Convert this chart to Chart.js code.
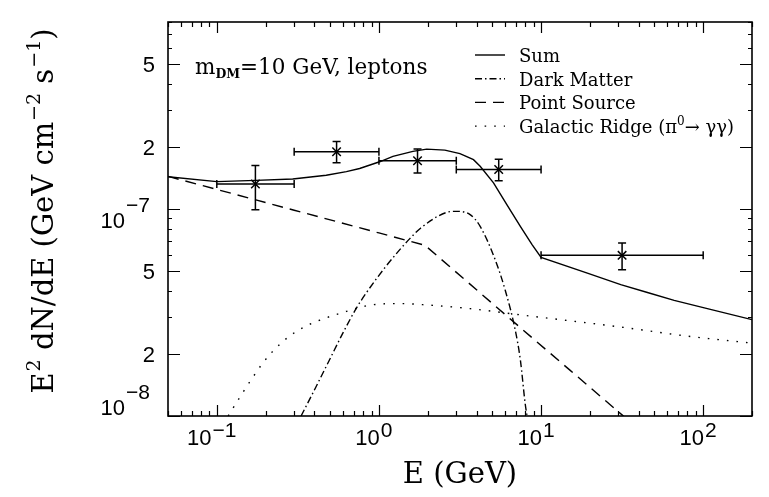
<!DOCTYPE html>
<html>
<head>
<meta charset="utf-8">
<script src="https://cdn.jsdelivr.net/npm/chart.js@4.4.0/dist/chart.umd.min.js"></script>
<style>
  html, body { margin: 0; padding: 0; background: #fff; }
  #wrap { width: 769px; height: 497px; position: relative; }
</style>
</head>
<body>
<div id="wrap"><canvas id="specChart"></canvas></div>
<script>
// energies in GeV, fluxes E^2 dN/dE in GeV cm^-2 s^-1
const sumE = [0.05, 0.1, 0.174, 0.294, 0.473, 0.63, 0.76, 1.01, 1.22, 1.62, 1.97, 2.55, 3.16, 3.83, 4.21, 5.09, 6.15, 7.45, 8.8, 10, 19.3, 31, 45.3, 66.2, 101.6, 200];
const sumF = [1.43e-7, 1.355e-7, 1.375e-7, 1.396e-7, 1.456e-7, 1.514e-7, 1.569e-7, 1.69e-7, 1.796e-7, 1.897e-7, 1.945e-7, 1.924e-7, 1.85e-7, 1.73e-7, 1.607e-7, 1.336e-7, 1.05e-7, 8.24e-8, 6.73e-8, 5.84e-8, 4.9e-8, 4.31e-8, 3.95e-8, 3.62e-8, 3.33e-8, 2.92e-8];

const dmE = [0.331, 0.391, 0.496, 0.6, 0.726, 0.837, 1.087, 1.345, 1.55, 1.79, 2.62, 3.02, 3.65, 4.21, 5.21, 6.0, 6.93, 7.45, 8.0, 8.2];
const dmF = [1e-8, 1.29e-8, 1.87e-8, 2.52e-8, 3.32e-8, 3.94e-8, 5.2e-8, 6.36e-8, 7.19e-8, 8.03e-8, 9.63e-8, 9.74e-8, 9.39e-8, 8.24e-8, 5.69e-8, 4.07e-8, 2.6e-8, 1.87e-8, 1.13e-8, 1e-8];

const psE = [0.05, 0.1, 0.3, 1, 1.92, 4, 7.8, 15, 31.7, 40];
const psF = [1.437e-7, 1.243e-7, 9.86e-8, 7.66e-8, 6.68e-8, 4.07e-8, 2.59e-8, 1.67e-8, 1.01e-8, 8.6e-9];

const ridgeE = [0.1175, 0.144, 0.166, 0.191, 0.221, 0.273, 0.339, 0.43, 0.629, 0.877, 1.35, 2.06, 3.65, 7.45, 31, 80.2, 200];
const ridgeF = [1.0e-8, 1.29e-8, 1.53e-8, 1.79e-8, 2.05e-8, 2.39e-8, 2.67e-8, 2.9e-8, 3.2e-8, 3.43e-8, 3.49e-8, 3.43e-8, 3.3e-8, 3.08e-8, 2.69e-8, 2.43e-8, 2.25e-8];

// measured points
const binLo = [0.1, 0.3, 1, 3, 10];
const binHi = [0.3, 1, 3, 10, 100];
const ptE = [0.173, 0.548, 1.73, 5.48, 31.6];
const ptF = [1.32e-7, 1.89e-7, 1.71e-7, 1.55e-7, 5.97e-8];
const errLo = [0.99e-7, 1.67e-7, 1.49e-7, 1.37e-7, 5.09e-8];
const errHi = [1.62e-7, 2.12e-7, 1.95e-7, 1.74e-7, 6.85e-8];

// axes
const X_MIN = 0.05, X_MAX = 200, Y_MIN = 1e-8, Y_MAX = 8e-7;
const xTickVals = [0.1, 1, 10, 100];
const xTickLabels = ["10⁻¹", "10⁰", "10¹", "10²"];
const yTickVals = [1e-8, 2e-8, 5e-8, 1e-7, 2e-7, 5e-7];
const yTickLabels = ["10⁻⁸", "2", "5", "10⁻⁷", "2", "5"];

const xTitle = "E (GeV)";
const yTitle = "E² dN/dE (GeV cm⁻² s⁻¹)";

const SUP = { "⁰": "0", "¹": "1", "²": "2", "³": "3", "⁴": "4", "⁵": "5", "⁶": "6", "⁷": "7", "⁸": "8", "⁹": "9", "⁻": "\u2212" };

function toRuns(str) {
    const runs = [];
    for (const ch of str) {
        const kind = SUP[ch] !== undefined ? "sup" : "n";
        const t = kind === "sup" ? SUP[ch] : ch;
        const last = runs[runs.length - 1];
        if (last && last.kind === kind) last.t += t;
        else runs.push({ t: t, kind: kind });
    }
    return runs;
}

function runsWidth(ctx, runs, f) {
    let w = 0;
    runs.forEach((r) => {
        ctx.font = f[r.kind];
        w += ctx.measureText(r.t).width + (r.kind === "sup" ? (f.gap || 0) : 0);
    });
    return w;
}

function drawRuns(ctx, runs, x, y, f, align) {
    const w = runsWidth(ctx, runs, f);
    let cx = align === "right" ? x - w : align === "center" ? x - w / 2 : x;
    ctx.textAlign = "left";
    ctx.textBaseline = "alphabetic";
    runs.forEach((r) => {
        ctx.font = f[r.kind];
        let dy = 0;
        if (r.kind === "sup") { dy = -f.raise; cx += (f.gap || 0); }
        if (r.kind === "sub") dy = f.drop;
        ctx.fillText(r.t, cx, y + dy);
        cx += ctx.measureText(r.t).width;
    });
}

function pts(xs, ys) {
    return xs.map((x, i) => ({ x: x, y: ys[i] }));
}

const framePlugin = {
    id: "framePlugin",
    beforeDraw(chart) {
        const c = chart.ctx;
        c.save();
        c.fillStyle = "#fff";
        c.fillRect(0, 0, chart.width, chart.height);
        c.restore();
    },
    afterDatasetsDraw(chart) {
        // error bars
        const c = chart.ctx, xs = chart.scales.x, ys = chart.scales.y;
        c.save();
        c.strokeStyle = "#000";
        c.lineWidth = 1.5;
        c.beginPath();
        ptE.forEach((e, i) => {
            const y = ys.getPixelForValue(ptF[i]);
            const x = xs.getPixelForValue(e);
            const x0 = xs.getPixelForValue(binLo[i]), x1 = xs.getPixelForValue(binHi[i]);
            const y0 = ys.getPixelForValue(errLo[i]), y1 = ys.getPixelForValue(errHi[i]);
            c.moveTo(x0, y); c.lineTo(x1, y);
            c.moveTo(x0, y - 4); c.lineTo(x0, y + 4);
            c.moveTo(x1, y - 4); c.lineTo(x1, y + 4);
            c.moveTo(x, y0); c.lineTo(x, y1);
            c.moveTo(x - 4, y0); c.lineTo(x + 4, y0);
            c.moveTo(x - 4, y1); c.lineTo(x + 4, y1);
        });
        c.stroke();
        c.restore();
    },
    afterDraw(chart) {
        const c = chart.ctx, a = chart.chartArea, xs = chart.scales.x, ys = chart.scales.y;
        c.save();
        c.strokeStyle = "#000";
        c.fillStyle = "#000";

        // frame
        c.lineWidth = 1.6;
        c.strokeRect(a.left, a.top, a.right - a.left, a.bottom - a.top);

        // ticks, pointing inward on all four sides
        c.lineWidth = 1.2;
        c.beginPath();
        for (let d = -2; d <= 2; d++) {
            for (let m = 1; m <= 9; m++) {
                const v = m * Math.pow(10, d);
                if (v < X_MIN || v > X_MAX) continue;
                const px = Math.round(xs.getPixelForValue(v)) + 0.5;
                const len = m === 1 ? 11 : 5;
                c.moveTo(px, a.bottom); c.lineTo(px, a.bottom - len);
                c.moveTo(px, a.top); c.lineTo(px, a.top + len);
            }
        }
        for (let d = -9; d <= -6; d++) {
            for (let m = 1; m <= 9; m++) {
                const v = m * Math.pow(10, d);
                if (v < Y_MIN || v > Y_MAX) continue;
                const py = Math.round(ys.getPixelForValue(v)) + 0.5;
                const len = (m === 1 || m === 2 || m === 5) ? 12 : 4;
                c.moveTo(a.left, py); c.lineTo(a.left + len, py);
                c.moveTo(a.right, py); c.lineTo(a.right - len, py);
            }
        }
        c.stroke();

        // tick labels
        const tickFont = { n: "22px 'Liberation Sans'", sup: "21px 'Liberation Sans'", raise: 8, gap: 1 };
        xTickVals.forEach((v, i) => {
            drawRuns(c, toRuns(xTickLabels[i]), xs.getPixelForValue(v) - 5, 445, tickFont, "center");
        });
        const yTickFont = { n: "22px 'Liberation Sans'", sup: "21px 'Liberation Sans'", raise: 16, gap: 1 };
        yTickVals.forEach((v, i) => {
            const py = ys.getPixelForValue(v);
            const runs = toRuns(yTickLabels[i]);
            if (runs.length > 1) {
                drawRuns(c, runs, 150, Math.min(py + 19, a.bottom - 1), yTickFont, "right");
            } else {
                drawRuns(c, runs, 155, py + 8, yTickFont, "right");
            }
        });

        // axis titles
        const titleFont = { n: "29px 'DejaVu Serif'", sup: "19px 'DejaVu Serif'", raise: 13, gap: 1 };
        drawRuns(c, toRuns(xTitle), (a.left + a.right) / 2, 483, titleFont, "center");
        c.save();
        c.translate(53, 211);
        c.rotate(-Math.PI / 2);
        drawRuns(c, toRuns(yTitle), 0, 0, titleFont, "center");
        c.restore();

        // annotation
        drawRuns(c, [{ t: "m", kind: "n" }, { t: "DM", kind: "sub" }, { t: "=10 GeV, leptons", kind: "n" }],
            195, 74, { n: "21.5px 'DejaVu Serif'", sub: "bold 12.5px 'DejaVu Serif'", drop: 4 }, "left");

        // legend
        const legFont = { n: "18px 'DejaVu Serif'", sup: "12px 'DejaVu Serif'", raise: 8, gap: 0 };
        chart.data.datasets.slice(0, 4).forEach((ds, i) => {
            const by = 62 + i * 23.7;
            c.beginPath();
            c.lineWidth = ds.borderWidth;
            c.setLineDash(ds.borderDash || []);
            c.moveTo(475, by - 7); c.lineTo(505, by - 7);
            c.stroke();
            c.setLineDash([]);
            drawRuns(c, toRuns(ds.label), 519, by, legFont, "left");
        });
        c.restore();
    }
};

const curveStyle = { showLine: true, pointRadius: 0, borderColor: "#000", borderWidth: 1.4, fill: false };

const chart = new Chart(document.getElementById("specChart"), {
    type: "scatter",
    data: {
        datasets: [
            { ...curveStyle, label: "Sum", data: pts(sumE, sumF), tension: 0 },
            { ...curveStyle, label: "Dark Matter", data: pts(dmE, dmF), borderDash: [7, 3, 1.5, 3], cubicInterpolationMode: "monotone" },
            { ...curveStyle, label: "Point Source", data: pts(psE, psF), borderDash: [11, 7], tension: 0 },
            { ...curveStyle, label: "Galactic Ridge (π⁰→ γγ)", data: pts(ridgeE, ridgeF), borderDash: [1.6, 8], cubicInterpolationMode: "monotone" },
            { label: "data", data: pts(ptE, ptF), showLine: false, pointStyle: "crossRot", pointRadius: 6, borderColor: "#000", borderWidth: 1.5 }
        ]
    },
    options: {
        responsive: true,
        maintainAspectRatio: false,
        animation: false,
        layout: { padding: { left: 168, right: 17, top: 22, bottom: 81 } },
        plugins: { legend: { display: false }, tooltip: { enabled: false } },
        scales: {
            x: { type: "logarithmic", min: X_MIN, max: X_MAX, display: false },
            y: { type: "logarithmic", min: Y_MIN, max: Y_MAX, display: false }
        }
    },
    plugins: [framePlugin]
});
</script>
</body>
</html>
